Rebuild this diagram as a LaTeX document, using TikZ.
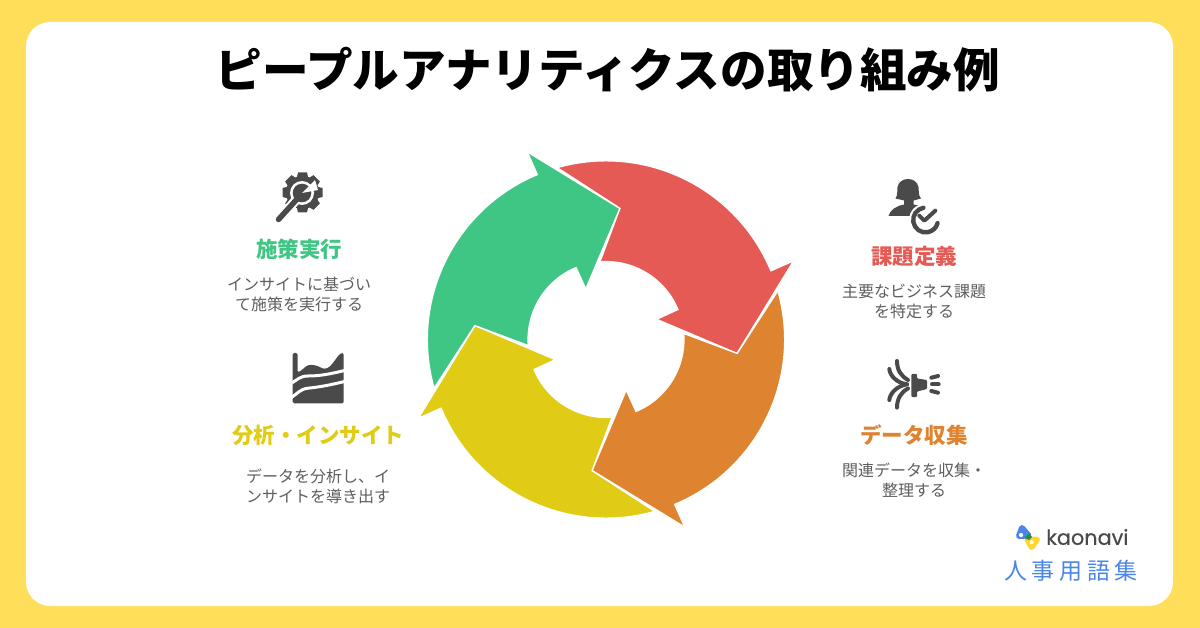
\documentclass[tikz,border=0pt]{standalone}
\usepackage{fontspec}
\setmainfont{Noto Sans CJK JP}
\newfontfamily\logofont[FakeBold=0.4]{Poppins}
\usetikzlibrary{positioning}
\definecolor{backyellow}{HTML}{FFDE59}
\definecolor{arrowred}{HTML}{E55A55}
\definecolor{arroworange}{HTML}{DE8431}
\definecolor{arrowyellow}{HTML}{E0CC14}
\definecolor{arrowgreen}{HTML}{3FC685}
\definecolor{icondark}{HTML}{4A4A4A}
\definecolor{bodygray}{HTML}{5E5E5E}
\definecolor{logoblue}{HTML}{4A86E8}
\definecolor{logoyellow}{HTML}{FFD52E}
\definecolor{logogreen}{HTML}{2E8B3F}
\begin{document}
\begin{tikzpicture}
  [x=1pt,y=-1pt,
  titletext/.style={font=\fontsize{46.6}{50}\selectfont\bfseries,text=black},
  headtext/.style={font=\fontsize{21.5}{24}\selectfont\bfseries},
  bodytext/.style={font=\fontsize{16}{20}\selectfont,text=bodygray,align=center},
  iconline/.style={draw=icondark,line width=4pt,line cap=round,fill=none},
  whiteline/.style={draw=white,line width=3pt}]
  \useasboundingbox (0,0) rectangle (1200,628);
  \fill[backyellow] (0,0) rectangle (1200,628);
  \fill[white,rounded corners=24pt] (26,22) rectangle (1173,606);

  \node[titletext] (title) at (608,70) {ピープルアナリティクスの取り組み例};

  % the four arrows of the cycle
  \foreach \a/\c in {0/arrowred,-90/arroworange,-180/arrowyellow,-270/arrowgreen}
  {
    \begin{scope}[shift={(606,339.5)},y=1pt,rotate=\a]
      \fill[\c,draw=white,line width=1.2pt,miter limit=20] (105.8:178.6) arc[start angle=105.8,end angle=22.6,radius=178.6]
        -- (187.5,78.6) -- (131,-13.8) -- (50.7,20.2) -- (22.6:78)
        arc[start angle=22.6,end angle=94.4,radius=78] -- (14,131.2) -- cycle;
    \end{scope}
  }

  % left side
  \node[headtext,text=arrowgreen] (jikko) at (299,249) {施策実行};
  \node[bodytext] (jikkotext) at (299,294) {インサイトに基づい\\て施策を実行する};
  \node[headtext,text=arrowyellow] (bunseki) at (318,435) {分析・インサイト};
  \node[bodytext] (bunsekitext) at (318,486) {データを分析し、イ\\ンサイトを導き出す};

  % right side
  \node[headtext,text=arrowred] (kadai) at (914,256) {課題定義};
  \node[bodytext] (kadaitext) at (914,301) {主要なビジネス課題\\を特定する};
  \node[headtext,text=arroworange] (shushu) at (914,435) {データ収集};
  \node[bodytext] (shushutext) at (914,480) {関連データを収集・\\整理する};

  % gear icon
  \fill[icondark] (302.5,192.5) circle (16.5);
  \foreach \t in {0,45,...,315}
    \fill[icondark,rotate around={\t:(302.5,192.5)}] (298,172.5) -- (307,172.5) -- (309,181) -- (296,181) -- cycle;
  \draw[white,line width=9.5pt] (302,193) -- (277,222);
  \fill[white] (302,193) circle (12);
  \fill[icondark] (302,193) circle (9.3);
  \fill[white] (302,193) -- (315,180) -- (318,190) -- cycle;
  \draw[icondark,line width=5.5pt,line cap=round] (298,198) -- (278.5,219.5);

  % chart icon
  \fill[icondark,rounded corners=1.5pt] (292.7,353) -- (297.5,353) -- (297.5,372.5)
    .. controls (303,370) and (306,365) .. (311,365)
    .. controls (318,365) and (322,369) .. (326,368.5)
    .. controls (331,367) and (336,358) .. (341,353) -- (343.7,353) -- (343.7,403.3) -- (292.7,403.3) -- cycle;
  \draw[whiteline] (291,383.5) .. controls (297,380) and (300,376) .. (308,376)
    .. controls (320,376) and (330,374) .. (345,370.4);
  \draw[whiteline] (291,397.8) .. controls (297,394) and (300,389) .. (308,388.2)
    .. controls (320,387) and (330,385) .. (345,381.4);

  % person icon
  \fill[icondark] (895.5,198.5) .. controls (898,195) and (897,190) .. (897.5,187)
    .. controls (898.5,182) and (903,179) .. (908,179)
    .. controls (913,179) and (917.5,182) .. (918.5,187)
    .. controls (919,190) and (918,195) .. (921,198.5) -- (913.5,200.5) -- (913.5,204.5)
    -- (922,206) -- (920,216) -- (888.5,216)
    .. controls (890,210) and (896,206) .. (904,204.5) -- (904,200.5) -- cycle;
  \fill[white] (925.6,220) circle (16.6);
  \begin{scope}[shift={(925.6,220)},y=1pt]
    \draw[icondark,line width=4.4pt,line cap=round] (100:12.4) arc[start angle=100,end angle=345,radius=12.4];
  \end{scope}
  \draw[iconline,line join=round] (919.3,215.7) -- (924.3,220.7) -- (935.3,210.7);

  % horn icon
  \draw[iconline] (897,361) .. controls (897,370) and (901,376) .. (908,380);
  \draw[iconline] (889.3,369) .. controls (890,376) and (897,383) .. (907,384.3);
  \draw[iconline] (897,407.6) .. controls (897,399) and (901,392) .. (908,388.5);
  \draw[iconline] (889.3,400) .. controls (890,393) and (897,386) .. (907,384.3);
  \fill[icondark,rounded corners=1pt] (911.3,374) -- (917,374) -- (917,378.5) -- (927,380) -- (927,389) -- (917,391.5) -- (917,397) -- (911.3,397) -- cycle;
  \draw[iconline] (931.3,377.7) -- (938,376);
  \draw[iconline] (932,384.3) -- (938.7,384.3);
  \draw[iconline] (931.3,391) -- (938,392.7);

  % logo
  \filldraw[logoyellow,line width=6pt,line join=round] (1027.5,540) -- (1037,539.5) -- (1031.7,547) -- cycle;
  \filldraw[logoblue,line width=6pt,line join=round] (1022,528) -- (1028.5,535.5) -- (1019,536) -- cycle;
  \fill[logogreen] (1024.5,538) -- (1029,533.5) -- (1032,537) -- (1029,540) -- cycle;
  \fill[white] (1021,535) circle (2.1);
  \fill[white] (1031.7,542.3) circle (2.1);
  \node[anchor=west,inner sep=0pt,text=icondark,font=\fontsize{20.8}{24}\selectfont\logofont] (kaonavi) at (1046,537) {kaonavi};
  \node[text=logoblue,font=\fontsize{23}{28}\selectfont] (yogoshu) at (1071,571) {人\hspace{4.6pt}事\hspace{4.6pt}用\hspace{4.6pt}語\hspace{4.6pt}集};
\end{tikzpicture}
\end{document}
